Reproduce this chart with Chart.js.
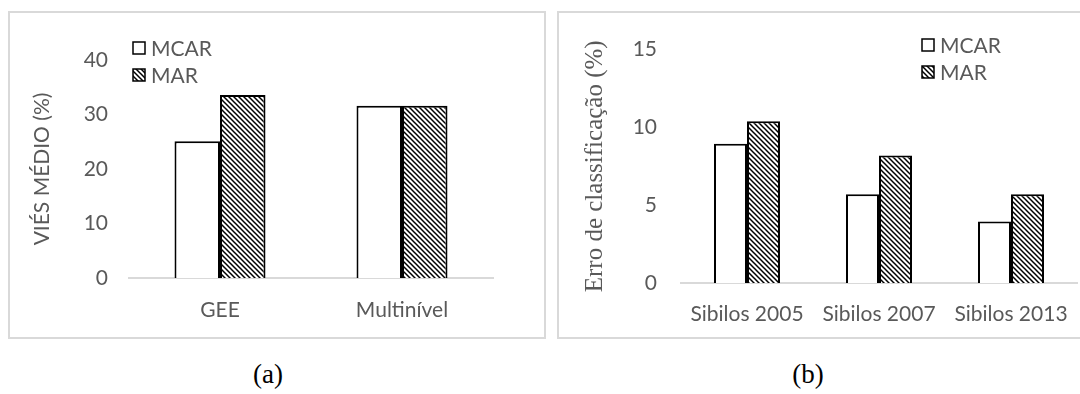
<!DOCTYPE html>
<html>
<head>
<meta charset="utf-8">
<script src="https://cdn.jsdelivr.net/npm/chart.js@4/dist/chart.umd.min.js"></script>
<style>
  html, body { margin:0; padding:0; background:#fff; width:1080px; height:394px; overflow:hidden; position:relative; }
  .panel { position:absolute; border:2px solid #d9d9d9; box-sizing:border-box; }
  .cv { position:absolute; }
  .cap { position:absolute; font-family:"Liberation Serif", serif; font-size:27px; color:#000; transform:translateX(-50%); }
</style>
</head>
<body>
<div class="panel" style="left:8px;top:11px;width:538px;height:328px"></div>
<div class="panel" style="left:557px;top:11px;width:540px;height:328px"></div>
<div class="cv" style="left:10px;top:13px;width:534px;height:324px"><canvas id="chartA"></canvas></div>
<div class="cv" style="left:559px;top:13px;width:540px;height:324px"><canvas id="chartB"></canvas></div>
<div class="cap" style="left:268px;top:359px">(a)</div>
<div class="cap" style="left:808px;top:359px">(b)</div>
<script>
// panel (a)
const catsA = ['GEE', 'Multinível'];
const mcarA = [25.1, 31.6];
const marA = [33.6, 31.6];
const ticksA = [0, 10, 20, 30, 40];
// panel (b)
const catsB = ['Sibilos 2005', 'Sibilos 2007', 'Sibilos 2013'];
const mcarB = [8.95, 5.7, 3.95];
const marB = [10.4, 8.2, 5.7];
const ticksB = [0, 5, 10, 15];

const GRAY = '#595959';
const SANS = 'Lato, "Open Sans", sans-serif';

function hatch(){
  const n = 5;
  const c = document.createElement('canvas');
  c.width = n; c.height = n;
  const x = c.getContext('2d');
  x.fillStyle = '#fff'; x.fillRect(0,0,n,n);
  x.strokeStyle = '#000'; x.lineWidth = 1.5;
  x.beginPath();
  x.moveTo(-1,-1); x.lineTo(n+1,n+1);
  x.moveTo(-1,n-1); x.lineTo(1,n+1);
  x.moveTo(n-1,-1); x.lineTo(n+1,1);
  x.stroke();
  return x.createPattern(c, 'repeat');
}
const HATCH = hatch();

// legend drawn inside the plot, stacked vertically
function legendPlugin(lx, ly){
  return {
    id: 'boxLegend',
    afterDraw(chart){
      const ctx = chart.ctx;
      ctx.save();
      ctx.font = '21px ' + SANS;
      ctx.textBaseline = 'middle';
      chart.data.datasets.forEach((ds, i) => {
        const y = ly + i * 27;
        ctx.fillStyle = ds.backgroundColor;
        ctx.fillRect(lx, y - 6, 12, 12);
        ctx.strokeStyle = '#000'; ctx.lineWidth = 1.5;
        ctx.strokeRect(lx, y - 6, 12, 12);
        ctx.fillStyle = GRAY;
        ctx.fillText(ds.label, lx + 18, y + 1);
      });
      ctx.restore();
    }
  };
}

function makeChart(id, cats, mcar, mar, tickVals, o){
  return new Chart(document.getElementById(id), {
    type: 'bar',
    data: {
      labels: cats,
      datasets: [
        { label:'MCAR', data: mcar, backgroundColor:'#fff', borderColor:'#000', borderWidth:2, borderSkipped:'bottom' },
        { label:'MAR', data: mar, backgroundColor: HATCH, borderColor:'#000', borderWidth:2, borderSkipped:'bottom' }
      ]
    },
    options: {
      responsive: true, maintainAspectRatio: false, animation: false,
      layout: { padding: { top: o.top, right: o.right, left: 0, bottom: 0 } },
      datasets: { bar: { categoryPercentage: 0.5, barPercentage: 1 } },
      plugins: { legend: { display:false }, tooltip: { enabled:false } },
      scales: {
        x: {
          grid: { display:false, drawTicks:false },
          border: { display:true, color:'#d9d9d9', width:2 },
          ticks: { color: GRAY, font: { family: SANS, size: 21 }, padding: o.xp, maxRotation: 0, autoSkip: false },
          afterFit: s => { s.height = o.xh; }
        },
        y: {
          min: 0, max: tickVals[tickVals.length - 1],
          afterBuildTicks: s => { s.ticks = tickVals.map(v => ({ value: v })); },
          grid: { display:false, drawTicks:false },
          border: { display:false },
          ticks: { color: GRAY, font: { family: SANS, size: 21 }, padding: o.tp },
          title: { display:true, text:o.title, color: GRAY, font: o.tfont, padding: o.tpad },
          afterFit: s => { s.width = o.yw; }
        }
      }
    },
    plugins: [legendPlugin(o.lx, o.ly)]
  });
}

makeChart('chartA', catsA, mcarA, marA, ticksA, {
  top: 47, right: 51, xh: 59, yw: 119, tp: 21, xp: 20,
  title: 'VIÉS MÉDIO (%)', tfont: { family: SANS, size: 21 }, tpad: { top: 20, bottom: 0 },
  lx: 123, ly: 35
});
makeChart('chartB', catsB, mcarB, marB, ticksB, {
  top: 32, right: 22, xh: 54, yw: 122, tp: 24, xp: 19,
  title: 'Erro de classificação (%)', tfont: { family: '"Liberation Serif", serif', size: 25 }, tpad: { top: 21, bottom: 0 },
  lx: 363, ly: 32
});
</script>
</body>
</html>
